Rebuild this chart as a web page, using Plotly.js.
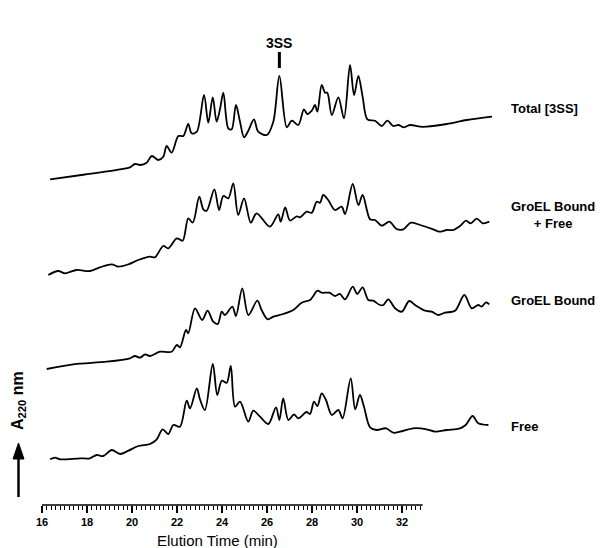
<!DOCTYPE html>
<html>
<head>
<meta charset="utf-8">
<script src="https://cdn.plot.ly/plotly-3.0.1.min.js"></script>
<style>html,body{margin:0;padding:0;background:#fff;}#chart{width:602px;height:548px;}</style>
</head>
<body>
<div id="chart"></div>
<script>
// Elution time (min) and relative A220 for each trace
const totalT = [16.36,17.91,19.47,19.91,20.13,20.36,20.65,20.88,21.17,21.39,21.54,21.76,22.06,22.28,22.50,22.65,22.88,23.20,23.39,23.59,23.76,23.91,24.06,24.28,24.43,24.62,24.80,24.98,25.17,25.42,25.61,25.99,26.28,26.55,26.88,27.10,27.39,27.64,27.79,27.99,28.13,28.24,28.43,28.58,28.68,28.88,29.17,29.42,29.69,29.87,30.06,30.25,30.46,30.80,31.10,31.35,31.61,31.84,32.06,32.36,32.80,33.10,33.99,34.88,36.0];
const totalA = [0.7,5.5,10.7,12.7,16,15,17.3,24,20,23.3,34,27.3,44,44,56,46.7,48.3,85,57.3,82.7,58.3,70.7,87.3,51.7,50.7,75,58.3,42.7,49.3,60.7,48.3,45,58.3,104,52.7,59.3,55,70.7,66,69.3,75,68.3,95,87.3,87.3,65,82.7,61.7,115,85,104,83.3,60.7,59.3,54,59.3,54,55,52.7,55,53.3,53.3,56,60,63.3];

const bfT = [16.28,16.72,17.02,17.54,18.13,18.58,19.10,19.39,19.84,20.28,20.80,21.02,21.39,21.61,21.99,22.25,22.50,22.70,22.99,23.17,23.32,23.66,23.87,24.06,24.28,24.50,24.72,24.98,25.28,25.54,26.13,26.50,26.61,26.81,27.02,27.32,27.47,27.76,27.99,28.21,28.36,28.50,28.72,29.02,29.32,29.47,29.81,30.06,30.25,30.58,30.80,31.10,31.44,31.76,32.06,32.39,32.80,33.39,33.66,33.99,34.28,34.58,34.84,35.05,35.32,35.59,35.88];
const bfA = [0,4,1.7,5,4,7.7,10.7,8.3,10.7,15,18.3,17.7,29,26.7,36.7,34.3,56.7,52.3,78.3,65.7,64.3,85.7,65,79,76.7,91.7,60,76.7,52.3,61.7,48.3,60.7,53.3,67.5,54.5,58.7,57.7,63.3,62.3,73.3,72.3,80,75,65,68.3,61,91,70,80,55.7,55,49.3,53.3,46,45.7,52.3,50,45.7,43.3,45,45,49,54.3,51.7,56.3,51.7,53.3];

const boundT = [16.21,17.39,18.88,19.91,20.13,20.36,20.58,20.80,21.24,21.76,21.99,22.13,22.40,22.50,22.80,23.12,23.36,23.61,23.81,23.99,24.13,24.46,24.62,24.90,25.17,25.57,25.76,26.03,26.28,26.72,27.17,27.54,27.91,28.25,28.43,28.77,29.02,29.24,29.47,29.81,30.01,30.25,30.50,30.72,31.02,31.17,31.39,31.69,31.99,32.32,32.58,33.02,33.32,33.61,33.91,34.36,34.77,35.10,35.39,35.54,35.73,35.88];
const boundA = [1,5.7,8.3,11.7,14,12.3,15.7,14,18.3,18.3,25,22.7,40,36.7,61.7,50,59.3,48.3,46,58.3,55,63.3,54,81.7,55,69.3,60,50.7,53.3,56,60,67.3,70,79.3,77.3,77.3,74,76,70.7,83.3,76,82.7,70,69.3,65,65,70.7,61.7,58.3,69,65,59.3,58.3,55,57.3,59.3,75,61.7,65,63.3,67.7,65.7];

const freeT = [16.36,16.58,16.80,17.69,18.13,18.43,18.72,19.10,19.47,19.84,20.28,20.80,21.10,21.36,21.61,21.84,22.13,22.43,22.58,22.88,23.02,23.24,23.59,23.79,23.99,24.21,24.39,24.58,24.80,25.17,25.39,25.69,26.06,26.40,26.55,26.72,26.95,27.20,27.39,27.76,27.91,28.09,28.24,28.43,28.62,28.88,29.17,29.36,29.72,29.92,30.13,30.31,30.58,30.88,31.29,31.61,31.91,32.50,33.10,33.47,33.99,34.58,34.83,35.14,35.39,35.84];
const freeA = [0.7,2.3,0.7,1.7,1.7,5,4,10,6,9.3,14,16,20.7,30.7,26,35,33.3,59.3,51.7,71.7,60.7,50,96,65,79.3,77.3,94,53.3,58.3,38.3,49.3,43.3,36,52.7,40,61.7,40,45.5,41.7,48,46,58.3,54,66.7,60,45,50,41.7,81.7,50.7,65,53.3,32.7,30,31.7,27.3,28.3,31.7,30.7,28.3,30,31.7,35,44,36.7,35];

const traceNames = ["Total [3SS]", "GroEL Bound<br>+ Free", "GroEL Bound", "Free"];
const traceOffsets = [325, 230, 135, 45];
const tickLabels = ["16","18","20","22","24","26","28","30","32"];
const tickValues = [16,18,20,22,24,26,28,30,32];
const peakTime = 26.55;

const series = [[totalT,totalA],[bfT,bfA],[boundT,boundA],[freeT,freeA]];
const data = series.map((s,i) => ({
  x: s[0],
  y: s[1].map(v => v + traceOffsets[i]),
  type: 'scatter', mode: 'lines',
  line: {color:'#000', width:1.8, shape:'spline', smoothing:0.9},
  hoverinfo:'skip', showlegend:false
}));

const minorVals = [];
for (let k = 0; k <= 84; k++) { const v = +(16 + k*0.2).toFixed(2); if (Math.abs(v/2 - Math.round(v/2)) > 1e-6) minorVals.push(v); }

const F = 'Liberation Sans, Arial, sans-serif';
const labelPos = [[509,108],[509,215],[509,300],[509,426]];
const px2paperX = px => (px-42)/453;
const px2paperY = py => (505-py)/465;

const annotations = traceNames.map((n,i) => ({
  text: n, xref:'paper', yref:'paper',
  x: px2paperX(labelPos[i][0]), y: px2paperY(labelPos[i][1]),
  xanchor:'left', yanchor:'middle', align:'center', showarrow:false,
  font:{family:F, size:13, color:'#000', weight:'bold'}
}));
annotations.push({text:'Elution Time (min)', xref:'paper', yref:'paper', x:px2paperX(217), y:px2paperY(540), xanchor:'center', yanchor:'middle', showarrow:false, font:{family:F,size:15,color:'#000'}});
annotations.push({text:'<b>3SS</b>', xref:'x', yref:'paper', x:peakTime, y:px2paperY(43), xanchor:'center', yanchor:'middle', showarrow:false, font:{family:F,size:14,color:'#000'}});
annotations.push({text:'<b>A<sub>220</sub> nm</b>', xref:'paper', yref:'paper', x:px2paperX(18), y:px2paperY(401), textangle:-90, xanchor:'center', yanchor:'middle', showarrow:false, font:{family:F,size:16,color:'#000'}});

const ax = px2paperX(18.5);
const arrowPath = 'M ' + px2paperX(13) + ',' + px2paperY(459) + ' L ' + ax + ',' + px2paperY(443) + ' L ' + px2paperX(24) + ',' + px2paperY(459) + ' Z';

const layout = {
  width:602, height:548,
  margin:{l:42, r:107, t:40, b:43},
  paper_bgcolor:'#fff', plot_bgcolor:'#fff',
  xaxis:{range:[16,36.133], showgrid:false, zeroline:false, showline:false,
    tickmode:'array', tickvals:tickValues, ticktext:tickLabels,
    ticks:'outside', ticklen:7, tickwidth:1.2, tickcolor:'#000',
    tickfont:{family:F, size:11, color:'#000', weight:'bold'},
    minor:{tickmode:'array', tickvals:minorVals, ticks:'outside', ticklen:4, tickwidth:1, tickcolor:'#000', showgrid:false}},
  yaxis:{range:[0,465], visible:false, fixedrange:true},
  shapes:[
    {type:'line', xref:'x', yref:'paper', x0:16, x1:32.92, y0:0, y1:0, line:{color:'#000', width:1.5}},
    {type:'line', xref:'x', yref:'paper', x0:peakTime, x1:peakTime, y0:px2paperY(52), y1:px2paperY(68), line:{color:'#000', width:3}},
    {type:'line', xref:'paper', yref:'paper', x0:ax, x1:ax, y0:px2paperY(497), y1:px2paperY(456), line:{color:'#000', width:2.5}},
    {type:'path', xref:'paper', yref:'paper', path:arrowPath, fillcolor:'#000', line:{color:'#000', width:1}}
  ],
  annotations: annotations
};
Plotly.newPlot('chart', data, layout, {staticPlot:true, displayModeBar:false});
</script>
</body>
</html>
